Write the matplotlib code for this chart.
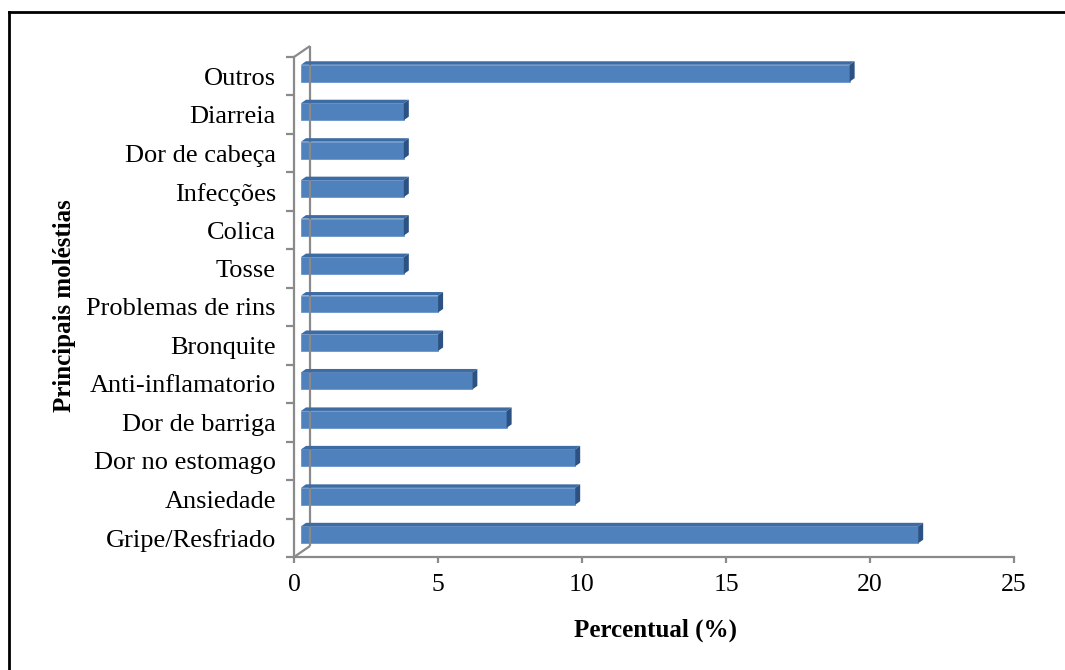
import matplotlib
matplotlib.use('Agg')
import matplotlib.pyplot as plt
from matplotlib.patches import Polygon
from matplotlib.transforms import Affine2D, IdentityTransform
from matplotlib.lines import Line2D

categories = ['Gripe/Resfriado', 'Ansiedade', 'Dor no estomago', 'Dor de barriga',
              'Anti-inflamatorio', 'Bronquite', 'Problemas de rins', 'Tosse', 'Colica',
              'Infecções', 'Dor de cabeça', 'Diarreia', 'Outros']
values = [21.43, 9.52, 9.52, 7.14, 5.95, 4.76, 4.76, 3.57, 3.57, 3.57, 3.57, 3.57, 19.05]
xticks = [0, 5, 10, 15, 20, 25]
xlabel = 'Percentual (%)'
ylabel = 'Principais moléstias'

W, H = 1065, 670
plt.rcParams['font.family'] = ['Liberation Serif', 'DejaVu Serif']
fig = plt.figure(figsize=(W / 100, H / 100), dpi=100)
fig.patch.set_facecolor('white')

L, R, T, B = 294, 1014, 57, 557
ax = fig.add_axes([L / W, 1 - B / H, (R - L) / W, (B - T) / H])
n = len(categories)
ax.set_xlim(0, 25)
ax.set_ylim(-0.5, n - 0.5)
ax.patch.set_alpha(0)

gray = '#8a8a8a'
for s in ['top', 'right']:
    ax.spines[s].set_visible(False)
for s in ['left', 'bottom']:
    ax.spines[s].set_color(gray)
    ax.spines[s].set_linewidth(1.6)

ax.set_xticks(xticks)
ax.set_xticklabels([str(t) for t in xticks])
ax.tick_params(axis='x', direction='out', length=4.5, width=1.6, color=gray,
               labelsize=18.5, pad=8)
ax.set_yticks(range(n))
ax.set_yticklabels(categories)
ax.tick_params(axis='y', which='major', length=0, labelsize=19, pad=13)
ax.set_yticks([i - 0.5 for i in range(n + 1)], minor=True)
ax.tick_params(axis='y', which='minor', direction='out', length=5.8, width=1.6, color=gray)

# back wall (depth offset in pixels)
wdx, wdy = 16, 11
p0 = ax.transAxes.transform((0, 0))
p1 = ax.transAxes.transform((0, 1))
wall_lines = [
    [(p0[0] + wdx, p0[1] + wdy), (p1[0] + wdx, p1[1] + wdy)],
    [(p0[0], p0[1]), (p0[0] + wdx, p0[1] + wdy)],
    [(p1[0], p1[1]), (p1[0] + wdx, p1[1] + wdy)],
]
for seg in wall_lines:
    fig.add_artist(Line2D([seg[0][0], seg[1][0]], [seg[0][1], seg[1][1]],
                          transform=IdentityTransform(), color=gray, lw=1.6,
                          solid_capstyle='butt'))

# bars with 3D look
front = '#4f81bd'
topc = '#3d6ba3'
sidec = '#2c5283'
bdx, bdy = 7, 3      # front face offset from axis plane
ddx, ddy = 5, 3.5    # bar depth
h = 0.44
off = ax.transData + Affine2D().translate(bdx, bdy)
ax.barh(range(n), values, height=h, color=front, transform=off, zorder=3,
        edgecolor='#6a96cc', linewidth=0.6)
for i, v in enumerate(values):
    x0, yb = off.transform((0, i - h / 2))
    x1, yt = off.transform((v, i + h / 2))
    top = Polygon([(x0, yt), (x1, yt), (x1 + ddx, yt + ddy), (x0 + ddx, yt + ddy)],
                  closed=True, transform=IdentityTransform(), facecolor=topc,
                  edgecolor='none', zorder=4)
    side = Polygon([(x1, yb), (x1, yt), (x1 + ddx, yt + ddy), (x1 + ddx, yb + ddy)],
                   closed=True, transform=IdentityTransform(), facecolor=sidec,
                   edgecolor='none', zorder=4)
    fig.add_artist(top)
    fig.add_artist(side)

fig.text(655 / W, 1 - 630 / H, xlabel, ha='center', va='center', fontsize=18,
         fontweight='bold')
fig.text(65 / W, 1 - 306 / H, ylabel, ha='center', va='center', fontsize=18,
         fontweight='bold', rotation=90)

# outer frame
fig.add_artist(Line2D([9, 9], [0, H - 12], transform=IdentityTransform(), color='black', lw=2))
fig.add_artist(Line2D([9, W], [H - 12, H - 12], transform=IdentityTransform(), color='black', lw=2))

fig.savefig('out.png', dpi=100)
